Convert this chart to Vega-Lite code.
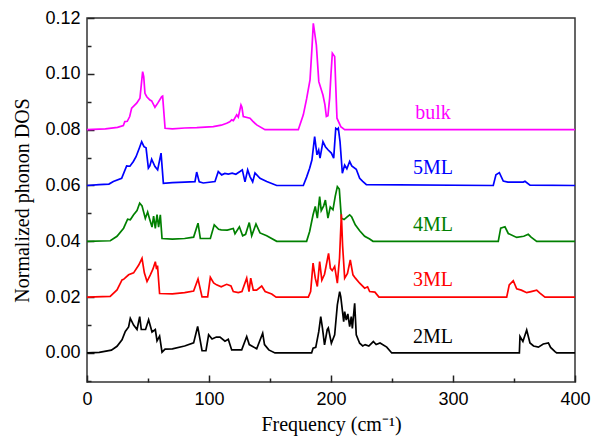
{
  "$schema": "https://vega.github.io/schema/vega-lite/v6.json",
  "width": 488,
  "height": 364,
  "autosize": "none",
  "padding": {"left": 87, "top": 18, "right": 25, "bottom": 57},
  "background": "white",
  "config": {
    "view": {"stroke": "#333333", "strokeWidth": 1.5},
    "axis": {
      "grid": false,
      "domain": false,
      "ticks": true,
      "tickColor": "#222222",
      "tickWidth": 1.5,
      "zindex": 1,
      "labelFont": "Liberation Sans",
      "labelFontSize": 18,
      "labelColor": "#000000",
      "titleFont": "Liberation Serif",
      "titleFontSize": 20,
      "titleFontWeight": "normal",
      "titleColor": "#000000"
    }
  },
  "datasets": {
    "dos": [
      {"s":"bulk","f":0,"d":0.0800},{"s":"bulk","f":15,"d":0.0803},{"s":"bulk","f":25,"d":0.0808},{"s":"bulk","f":29.8,"d":0.0815},{"s":"bulk","f":31,"d":0.0829},{"s":"bulk","f":33,"d":0.0830},{"s":"bulk","f":35,"d":0.0847},{"s":"bulk","f":36.6,"d":0.0877},{"s":"bulk","f":40.7,"d":0.0895},{"s":"bulk","f":43.4,"d":0.0913},{"s":"bulk","f":45.6,"d":0.1008},{"s":"bulk","f":46.5,"d":0.0990},{"s":"bulk","f":47.5,"d":0.0930},{"s":"bulk","f":49,"d":0.0918},{"s":"bulk","f":51.6,"d":0.0906},{"s":"bulk","f":53,"d":0.0903},{"s":"bulk","f":55.7,"d":0.0880},{"s":"bulk","f":58,"d":0.0895},{"s":"bulk","f":61.2,"d":0.0918},{"s":"bulk","f":62,"d":0.0920},{"s":"bulk","f":64,"d":0.0805},{"s":"bulk","f":70,"d":0.0803},{"s":"bulk","f":80,"d":0.0806},{"s":"bulk","f":90,"d":0.0807},{"s":"bulk","f":103.5,"d":0.0811},{"s":"bulk","f":110,"d":0.0816},{"s":"bulk","f":114.5,"d":0.0823},{"s":"bulk","f":117,"d":0.0828},{"s":"bulk","f":118.6,"d":0.0835},{"s":"bulk","f":120,"d":0.0832},{"s":"bulk","f":122.7,"d":0.0853},{"s":"bulk","f":124,"d":0.0845},{"s":"bulk","f":126.2,"d":0.0888},{"s":"bulk","f":127,"d":0.0880},{"s":"bulk","f":128.1,"d":0.0847},{"s":"bulk","f":133.6,"d":0.0841},{"s":"bulk","f":136,"d":0.0830},{"s":"bulk","f":139.1,"d":0.0817},{"s":"bulk","f":145.9,"d":0.0800},{"s":"bulk","f":173.2,"d":0.0800},{"s":"bulk","f":177.3,"d":0.0853},{"s":"bulk","f":180,"d":0.0910},{"s":"bulk","f":182.8,"d":0.0978},{"s":"bulk","f":184.5,"d":0.1100},{"s":"bulk","f":185.5,"d":0.1181},{"s":"bulk","f":186.5,"d":0.1150},{"s":"bulk","f":188,"d":0.1103},{"s":"bulk","f":190,"d":0.0972},{"s":"bulk","f":193.4,"d":0.0924},{"s":"bulk","f":195,"d":0.0890},{"s":"bulk","f":196.2,"d":0.0847},{"s":"bulk","f":197.5,"d":0.0850},{"s":"bulk","f":198.9,"d":0.0913},{"s":"bulk","f":200,"d":0.1000},{"s":"bulk","f":201.1,"d":0.1074},{"s":"bulk","f":203,"d":0.1062},{"s":"bulk","f":204.9,"d":0.0841},{"s":"bulk","f":208,"d":0.0811},{"s":"bulk","f":211.2,"d":0.0800},{"s":"bulk","f":400,"d":0.0800},

      {"s":"5ML","f":0,"d":0.0600},{"s":"5ML","f":10,"d":0.0603},{"s":"5ML","f":18,"d":0.0605},{"s":"5ML","f":21.6,"d":0.0614},{"s":"5ML","f":28.4,"d":0.0626},{"s":"5ML","f":32.5,"d":0.0670},{"s":"5ML","f":35.2,"d":0.0669},{"s":"5ML","f":38,"d":0.0686},{"s":"5ML","f":40.2,"d":0.0703},{"s":"5ML","f":43,"d":0.0735},{"s":"5ML","f":44.8,"d":0.0757},{"s":"5ML","f":46.7,"d":0.0739},{"s":"5ML","f":48.4,"d":0.0735},{"s":"5ML","f":50.3,"d":0.0662},{"s":"5ML","f":51.5,"d":0.0670},{"s":"5ML","f":53,"d":0.0694},{"s":"5ML","f":55.7,"d":0.0668},{"s":"5ML","f":57.9,"d":0.0656},{"s":"5ML","f":60.7,"d":0.0716},{"s":"5ML","f":62.6,"d":0.0608},{"s":"5ML","f":70,"d":0.0610},{"s":"5ML","f":80,"d":0.0612},{"s":"5ML","f":88.5,"d":0.0614},{"s":"5ML","f":89.9,"d":0.0648},{"s":"5ML","f":92,"d":0.0613},{"s":"5ML","f":95.3,"d":0.0609},{"s":"5ML","f":104.9,"d":0.0614},{"s":"5ML","f":107.6,"d":0.0650},{"s":"5ML","f":110.4,"d":0.0638},{"s":"5ML","f":113,"d":0.0643},{"s":"5ML","f":115.8,"d":0.0641},{"s":"5ML","f":119,"d":0.0644},{"s":"5ML","f":122,"d":0.0640},{"s":"5ML","f":125.4,"d":0.0650},{"s":"5ML","f":127.3,"d":0.0656},{"s":"5ML","f":129.5,"d":0.0613},{"s":"5ML","f":131.7,"d":0.0656},{"s":"5ML","f":133.6,"d":0.0632},{"s":"5ML","f":135.8,"d":0.0613},{"s":"5ML","f":137.7,"d":0.0645},{"s":"5ML","f":141.8,"d":0.0626},{"s":"5ML","f":147.3,"d":0.0614},{"s":"5ML","f":155.5,"d":0.0600},{"s":"5ML","f":177.3,"d":0.0600},{"s":"5ML","f":180,"d":0.0630},{"s":"5ML","f":182.5,"d":0.0662},{"s":"5ML","f":184.4,"d":0.0692},{"s":"5ML","f":186.6,"d":0.0775},{"s":"5ML","f":188.5,"d":0.0710},{"s":"5ML","f":189.9,"d":0.0727},{"s":"5ML","f":191,"d":0.0698},{"s":"5ML","f":193.4,"d":0.0757},{"s":"5ML","f":195.4,"d":0.0739},{"s":"5ML","f":197.5,"d":0.0728},{"s":"5ML","f":200.3,"d":0.0716},{"s":"5ML","f":202.2,"d":0.0698},{"s":"5ML","f":203.9,"d":0.0805},{"s":"5ML","f":205.2,"d":0.0801},{"s":"5ML","f":206,"d":0.0805},{"s":"5ML","f":207.4,"d":0.0757},{"s":"5ML","f":209.3,"d":0.0644},{"s":"5ML","f":211.2,"d":0.0673},{"s":"5ML","f":213,"d":0.0660},{"s":"5ML","f":215.3,"d":0.0686},{"s":"5ML","f":217,"d":0.0670},{"s":"5ML","f":220.7,"d":0.0658},{"s":"5ML","f":223.5,"d":0.0626},{"s":"5ML","f":226,"d":0.0615},{"s":"5ML","f":229,"d":0.0603},{"s":"5ML","f":333,"d":0.0600},{"s":"5ML","f":335.2,"d":0.0638},{"s":"5ML","f":338,"d":0.0646},{"s":"5ML","f":341.2,"d":0.0616},{"s":"5ML","f":345,"d":0.0612},{"s":"5ML","f":357.6,"d":0.0612},{"s":"5ML","f":359,"d":0.0615},{"s":"5ML","f":363.1,"d":0.0601},{"s":"5ML","f":400,"d":0.0600},

      {"s":"4ML","f":0,"d":0.0400},{"s":"4ML","f":19.1,"d":0.0402},{"s":"4ML","f":24.6,"d":0.0418},{"s":"4ML","f":30,"d":0.0447},{"s":"4ML","f":33.3,"d":0.0479},{"s":"4ML","f":35.5,"d":0.0477},{"s":"4ML","f":38.2,"d":0.0495},{"s":"4ML","f":41,"d":0.0510},{"s":"4ML","f":43.2,"d":0.0537},{"s":"4ML","f":45.1,"d":0.0527},{"s":"4ML","f":47.8,"d":0.0482},{"s":"4ML","f":49.7,"d":0.0505},{"s":"4ML","f":51.3,"d":0.0480},{"s":"4ML","f":53.3,"d":0.0451},{"s":"4ML","f":54.6,"d":0.0490},{"s":"4ML","f":56,"d":0.0446},{"s":"4ML","f":57.4,"d":0.0496},{"s":"4ML","f":58.7,"d":0.0451},{"s":"4ML","f":60.1,"d":0.0495},{"s":"4ML","f":61.5,"d":0.0410},{"s":"4ML","f":70,"d":0.0408},{"s":"4ML","f":80,"d":0.0410},{"s":"4ML","f":87.4,"d":0.0415},{"s":"4ML","f":91,"d":0.0465},{"s":"4ML","f":92.9,"d":0.0410},{"s":"4ML","f":101.1,"d":0.0410},{"s":"4ML","f":104.3,"d":0.0459},{"s":"4ML","f":107.9,"d":0.0443},{"s":"4ML","f":110,"d":0.0441},{"s":"4ML","f":115,"d":0.0440},{"s":"4ML","f":119.9,"d":0.0446},{"s":"4ML","f":121.3,"d":0.0427},{"s":"4ML","f":124.9,"d":0.0452},{"s":"4ML","f":127.6,"d":0.0420},{"s":"4ML","f":130,"d":0.0425},{"s":"4ML","f":133,"d":0.0467},{"s":"4ML","f":135,"d":0.0420},{"s":"4ML","f":138.5,"d":0.0462},{"s":"4ML","f":141.8,"d":0.0430},{"s":"4ML","f":147.3,"d":0.0420},{"s":"4ML","f":155.5,"d":0.0400},{"s":"4ML","f":180,"d":0.0400},{"s":"4ML","f":182.5,"d":0.0435},{"s":"4ML","f":185.3,"d":0.0495},{"s":"4ML","f":187.1,"d":0.0525},{"s":"4ML","f":188.8,"d":0.0483},{"s":"4ML","f":190.7,"d":0.0560},{"s":"4ML","f":192,"d":0.0510},{"s":"4ML","f":194,"d":0.0527},{"s":"4ML","f":195.4,"d":0.0548},{"s":"4ML","f":197.5,"d":0.0483},{"s":"4ML","f":199.4,"d":0.0523},{"s":"4ML","f":201.6,"d":0.0513},{"s":"4ML","f":203.5,"d":0.0562},{"s":"4ML","f":205.2,"d":0.0596},{"s":"4ML","f":206.8,"d":0.0587},{"s":"4ML","f":208.5,"d":0.0483},{"s":"4ML","f":210.7,"d":0.0478},{"s":"4ML","f":213,"d":0.0487},{"s":"4ML","f":215.3,"d":0.0495},{"s":"4ML","f":217,"d":0.0487},{"s":"4ML","f":219.9,"d":0.0459},{"s":"4ML","f":223.5,"d":0.0438},{"s":"4ML","f":227.6,"d":0.0418},{"s":"4ML","f":231.7,"d":0.0408},{"s":"4ML","f":234.4,"d":0.0400},{"s":"4ML","f":337.1,"d":0.0400},{"s":"4ML","f":339.1,"d":0.0447},{"s":"4ML","f":342.6,"d":0.0452},{"s":"4ML","f":345.3,"d":0.0428},{"s":"4ML","f":352.2,"d":0.0414},{"s":"4ML","f":358,"d":0.0418},{"s":"4ML","f":361.7,"d":0.0425},{"s":"4ML","f":364,"d":0.0415},{"s":"4ML","f":368.6,"d":0.0400},{"s":"4ML","f":400,"d":0.0400},

      {"s":"3ML","f":0,"d":0.0200},{"s":"3ML","f":19,"d":0.0203},{"s":"3ML","f":24.6,"d":0.0226},{"s":"3ML","f":28.7,"d":0.0262},{"s":"3ML","f":30,"d":0.0264},{"s":"3ML","f":34.1,"d":0.0280},{"s":"3ML","f":38.2,"d":0.0287},{"s":"3ML","f":42.4,"d":0.0315},{"s":"3ML","f":45.1,"d":0.0339},{"s":"3ML","f":47,"d":0.0287},{"s":"3ML","f":49.2,"d":0.0256},{"s":"3ML","f":51.9,"d":0.0280},{"s":"3ML","f":54,"d":0.0300},{"s":"3ML","f":56,"d":0.0327},{"s":"3ML","f":57,"d":0.0300},{"s":"3ML","f":57.8,"d":0.0313},{"s":"3ML","f":59.5,"d":0.0213},{"s":"3ML","f":70,"d":0.0212},{"s":"3ML","f":80,"d":0.0216},{"s":"3ML","f":87.4,"d":0.0222},{"s":"3ML","f":91,"d":0.0265},{"s":"3ML","f":94.3,"d":0.0201},{"s":"3ML","f":98.9,"d":0.0201},{"s":"3ML","f":101.1,"d":0.0271},{"s":"3ML","f":103.8,"d":0.0251},{"s":"3ML","f":106.2,"d":0.0244},{"s":"3ML","f":110,"d":0.0237},{"s":"3ML","f":114.5,"d":0.0246},{"s":"3ML","f":118,"d":0.0240},{"s":"3ML","f":119.9,"d":0.0220},{"s":"3ML","f":124,"d":0.0216},{"s":"3ML","f":127,"d":0.0220},{"s":"3ML","f":130.9,"d":0.0268},{"s":"3ML","f":132.8,"d":0.0220},{"s":"3ML","f":134.2,"d":0.0268},{"s":"3ML","f":136.3,"d":0.0225},{"s":"3ML","f":139,"d":0.0225},{"s":"3ML","f":143.2,"d":0.0240},{"s":"3ML","f":146,"d":0.0220},{"s":"3ML","f":151.4,"d":0.0211},{"s":"3ML","f":155,"d":0.0200},{"s":"3ML","f":181.4,"d":0.0200},{"s":"3ML","f":183.3,"d":0.0220},{"s":"3ML","f":185.3,"d":0.0322},{"s":"3ML","f":187.1,"d":0.0268},{"s":"3ML","f":188.8,"d":0.0238},{"s":"3ML","f":190.7,"d":0.0327},{"s":"3ML","f":192.5,"d":0.0261},{"s":"3ML","f":194.7,"d":0.0282},{"s":"3ML","f":198,"d":0.0357},{"s":"3ML","f":199.5,"d":0.0303},{"s":"3ML","f":201,"d":0.0295},{"s":"3ML","f":203,"d":0.0310},{"s":"3ML","f":205.2,"d":0.0250},{"s":"3ML","f":207,"d":0.0340},{"s":"3ML","f":208.5,"d":0.0497},{"s":"3ML","f":209.5,"d":0.0385},{"s":"3ML","f":211.2,"d":0.0268},{"s":"3ML","f":213.5,"d":0.0285},{"s":"3ML","f":215.8,"d":0.0333},{"s":"3ML","f":218,"d":0.0280},{"s":"3ML","f":220,"d":0.0268},{"s":"3ML","f":223.5,"d":0.0250},{"s":"3ML","f":227.6,"d":0.0232},{"s":"3ML","f":230,"d":0.0237},{"s":"3ML","f":231.7,"d":0.0220},{"s":"3ML","f":236,"d":0.0218},{"s":"3ML","f":239.3,"d":0.0200},{"s":"3ML","f":344,"d":0.0200},{"s":"3ML","f":346.1,"d":0.0244},{"s":"3ML","f":349.4,"d":0.0259},{"s":"3ML","f":352.2,"d":0.0230},{"s":"3ML","f":356,"d":0.0225},{"s":"3ML","f":360.4,"d":0.0216},{"s":"3ML","f":364,"d":0.0220},{"s":"3ML","f":368.6,"d":0.0225},{"s":"3ML","f":371,"d":0.0215},{"s":"3ML","f":375.4,"d":0.0200},{"s":"3ML","f":400,"d":0.0200},

      {"s":"2ML","f":0,"d":0.0000},{"s":"2ML","f":10,"d":0.0002},{"s":"2ML","f":20,"d":0.0010},{"s":"2ML","f":24.6,"d":0.0024},{"s":"2ML","f":28.7,"d":0.0047},{"s":"2ML","f":31.4,"d":0.0077},{"s":"2ML","f":34.1,"d":0.0093},{"s":"2ML","f":35.5,"d":0.0124},{"s":"2ML","f":38.2,"d":0.0100},{"s":"2ML","f":41,"d":0.0084},{"s":"2ML","f":43.2,"d":0.0130},{"s":"2ML","f":44.5,"d":0.0084},{"s":"2ML","f":48,"d":0.0084},{"s":"2ML","f":50.5,"d":0.0119},{"s":"2ML","f":53.3,"d":0.0075},{"s":"2ML","f":56,"d":0.0084},{"s":"2ML","f":57.4,"d":0.0043},{"s":"2ML","f":59.5,"d":0.0060},{"s":"2ML","f":61.5,"d":0.0003},{"s":"2ML","f":64,"d":0.0014},{"s":"2ML","f":70,"d":0.0015},{"s":"2ML","f":80,"d":0.0025},{"s":"2ML","f":87.4,"d":0.0036},{"s":"2ML","f":90.7,"d":0.0095},{"s":"2ML","f":94.3,"d":0.0008},{"s":"2ML","f":97.5,"d":0.0008},{"s":"2ML","f":99.7,"d":0.0065},{"s":"2ML","f":102.5,"d":0.0050},{"s":"2ML","f":106,"d":0.0057},{"s":"2ML","f":109,"d":0.0057},{"s":"2ML","f":113.1,"d":0.0042},{"s":"2ML","f":115.8,"d":0.0049},{"s":"2ML","f":118.6,"d":0.0011},{"s":"2ML","f":126.8,"d":0.0011},{"s":"2ML","f":130.9,"d":0.0059},{"s":"2ML","f":133,"d":0.0030},{"s":"2ML","f":139.1,"d":0.0015},{"s":"2ML","f":144,"d":0.0071},{"s":"2ML","f":145.5,"d":0.0030},{"s":"2ML","f":149,"d":0.0011},{"s":"2ML","f":154.1,"d":0.0000},{"s":"2ML","f":184.1,"d":0.0000},{"s":"2ML","f":185.3,"d":0.0017},{"s":"2ML","f":187.5,"d":0.0020},{"s":"2ML","f":190,"d":0.0077},{"s":"2ML","f":191.6,"d":0.0130},{"s":"2ML","f":193,"d":0.0089},{"s":"2ML","f":194.7,"d":0.0029},{"s":"2ML","f":196.9,"d":0.0084},{"s":"2ML","f":197.8,"d":0.0090},{"s":"2ML","f":200.3,"d":0.0035},{"s":"2ML","f":203,"d":0.0065},{"s":"2ML","f":205.2,"d":0.0172},{"s":"2ML","f":207.1,"d":0.0220},{"s":"2ML","f":208,"d":0.0202},{"s":"2ML","f":210.4,"d":0.0112},{"s":"2ML","f":211.2,"d":0.0148},{"s":"2ML","f":212.5,"d":0.0118},{"s":"2ML","f":213.8,"d":0.0140},{"s":"2ML","f":215.3,"d":0.0094},{"s":"2ML","f":216.6,"d":0.0130},{"s":"2ML","f":217.5,"d":0.0088},{"s":"2ML","f":219.4,"d":0.0178},{"s":"2ML","f":220.7,"d":0.0065},{"s":"2ML","f":223.5,"d":0.0035},{"s":"2ML","f":226,"d":0.0025},{"s":"2ML","f":228,"d":0.0030},{"s":"2ML","f":231,"d":0.0025},{"s":"2ML","f":234.7,"d":0.0041},{"s":"2ML","f":237,"d":0.0030},{"s":"2ML","f":240.2,"d":0.0036},{"s":"2ML","f":245.7,"d":0.0021},{"s":"2ML","f":249.8,"d":0.0000},{"s":"2ML","f":354.4,"d":0.0000},{"s":"2ML","f":354.9,"d":0.0059},{"s":"2ML","f":357.3,"d":0.0041},{"s":"2ML","f":360.4,"d":0.0082},{"s":"2ML","f":363.1,"d":0.0036},{"s":"2ML","f":366,"d":0.0025},{"s":"2ML","f":370,"d":0.0021},{"s":"2ML","f":374,"d":0.0032},{"s":"2ML","f":378.2,"d":0.0036},{"s":"2ML","f":380,"d":0.0020},{"s":"2ML","f":383.6,"d":0.0005},{"s":"2ML","f":385,"d":0.0000},{"s":"2ML","f":400,"d":0.0000}
    ],
    "labels": [
      {"s":"bulk","f":283.6,"d":0.0860},
      {"s":"5ML","f":283.6,"d":0.0663},
      {"s":"4ML","f":283.6,"d":0.0459},
      {"s":"3ML","f":283.6,"d":0.0262},
      {"s":"2ML","f":283.6,"d":0.0058}
    ]
  },
  "resolve": {"axis": {"x": "independent", "y": "independent"}},
  "layer": [
    {
      "data": {"name": "dos"},
      "mark": {"type": "line", "strokeWidth": 1.7, "clip": true},
      "encoding": {
        "x": {"field": "f", "type": "quantitative", "scale": {"domain": [0, 400], "nice": false},
          "axis": {"orient": "bottom", "title": "Frequency  (cm⁻¹)", "values": [0, 100, 200, 300, 400], "offset": -7, "tickSize": 7, "labelPadding": 8, "titlePadding": 6, "labelFlush": false}},
        "y": {"field": "d", "type": "quantitative", "scale": {"domain": [-0.0104, 0.12], "nice": false, "zero": false},
          "axis": {"orient": "left", "title": "Normalized phonon DOS", "values": [0, 0.02, 0.04, 0.06, 0.08, 0.1, 0.12], "format": ".2f", "offset": -7, "tickSize": 7, "labelPadding": 7, "titlePadding": 12, "labelFlush": false}},
        "color": {"field": "s", "type": "nominal", "scale": {"domain": ["bulk", "5ML", "4ML", "3ML", "2ML"], "range": ["#FF00FF", "#0000FF", "#008000", "#FF0000", "#000000"]}, "legend": null},
        "detail": {"field": "s"}
      }
    },
    {
      "data": {"name": "labels"},
      "mark": {"type": "text", "font": "Liberation Serif", "fontSize": 20, "align": "center", "baseline": "middle"},
      "encoding": {
        "x": {"field": "f", "type": "quantitative",
          "axis": {"orient": "bottom", "title": null, "labels": false, "values": [50, 150, 250, 350], "offset": -4, "tickSize": 4}},
        "y": {"field": "d", "type": "quantitative",
          "axis": {"orient": "left", "title": null, "labels": false, "values": [-0.01, 0.01, 0.03, 0.05, 0.07, 0.09, 0.11], "offset": -4, "tickSize": 4}},
        "text": {"field": "s"},
        "color": {"field": "s", "type": "nominal", "legend": null}
      }
    }
  ]
}
